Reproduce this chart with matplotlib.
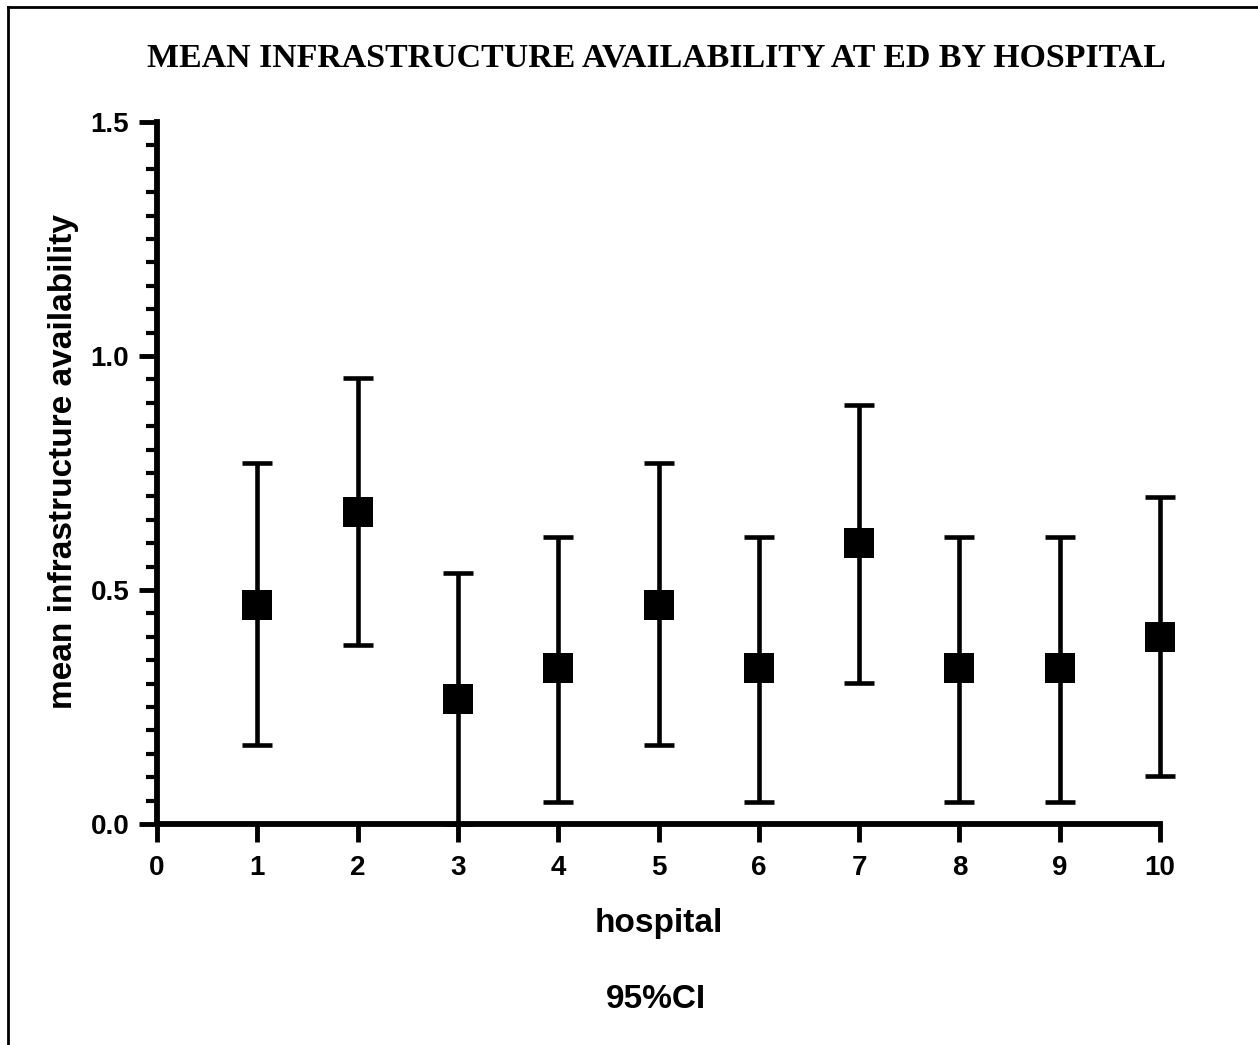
import matplotlib.pyplot as plt
import numpy as np
from matplotlib.lines import Line2D
from matplotlib.ticker import MultipleLocator

# data
hospitals = [1, 2, 3, 4, 5, 6, 7, 8, 9, 10]
means = [0.467, 0.667, 0.267, 0.333, 0.467, 0.333, 0.600, 0.333, 0.333, 0.400]
ci_low = [0.168, 0.382, 0.000, 0.047, 0.168, 0.047, 0.302, 0.047, 0.047, 0.102]
ci_high = [0.771, 0.953, 0.537, 0.614, 0.771, 0.614, 0.896, 0.614, 0.614, 0.698]
x_ticks = [0, 1, 2, 3, 4, 5, 6, 7, 8, 9, 10]
y_ticks = [0.0, 0.5, 1.0, 1.5]

W, H = 1258, 1045
fig = plt.figure(figsize=(W / 100, H / 100), dpi=100)
ax = fig.add_axes([157 / W, (H - 824) / H, (1160 - 157) / W, (824 - 122) / H])

means = np.array(means)
yerr = [means - np.array(ci_low), np.array(ci_high) - means]
# error bars with caps, then the square means on top
ax.errorbar(hospitals, means, yerr=yerr, fmt='none', ecolor='black',
            elinewidth=3.3, capsize=11, capthick=3.3, clip_on=False, zorder=3)
ax.plot(hospitals, means, 's', color='black', ms=22, mew=0, clip_on=False, zorder=4)

ax.set_xlim(0, 10)
ax.set_ylim(0, 1.5)
ax.set_xticks(x_ticks)
ax.set_yticks(y_ticks)
ax.set_yticklabels(['{:.1f}'.format(v) for v in y_ticks])
ax.yaxis.set_minor_locator(MultipleLocator(0.05))

for side in ['top', 'right']:
    ax.spines[side].set_visible(False)
for side in ['left', 'bottom']:
    ax.spines[side].set_linewidth(4.2)

ax.tick_params(axis='both', which='major', length=13, width=3.5,
               labelsize=20, pad=7)
ax.tick_params(axis='x', which='major', pad=9)
ax.tick_params(axis='y', which='minor', length=8, width=3)
for lab in ax.get_xticklabels() + ax.get_yticklabels():
    lab.set_fontfamily('Liberation Sans')
    lab.set_fontweight('bold')

ax.set_ylabel('mean infrastructure availability', fontsize=24,
              fontweight='bold', family='Liberation Sans', labelpad=8)
ax.yaxis.label.set_y(0.517)
ax.set_xlabel('hospital', fontsize=24, fontweight='bold',
              family='Liberation Sans', labelpad=20)

fig.text(656 / W, 1 - 58 / H, 'MEAN INFRASTRUCTURE AVAILABILITY AT ED BY HOSPITAL',
         ha='center', va='center', fontsize=24.4, fontweight='bold',
         family='Liberation Serif')
fig.text(656 / W, 1 - 1000 / H, '95%CI', ha='center', va='center',
         fontsize=24, fontweight='bold', family='Liberation Sans')

# partial frame around the figure (top and left edges)
fig.add_artist(Line2D([8 / W, 8 / W], [0, 1 - 7 / H], color='black', lw=2))
fig.add_artist(Line2D([8 / W, 1], [1 - 7 / H, 1 - 7 / H], color='black', lw=2))

fig.savefig('out.png', dpi=100)
